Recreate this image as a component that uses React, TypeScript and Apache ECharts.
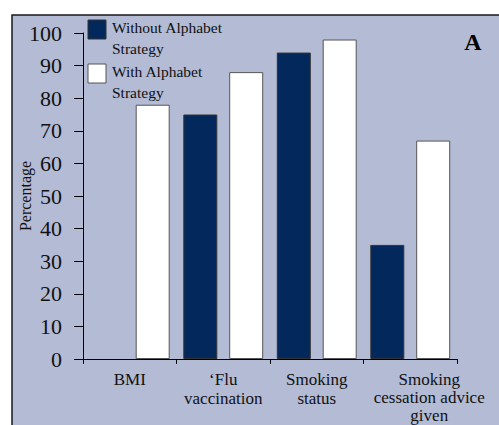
import React, { useEffect, useRef } from "react";
import * as echarts from "echarts";

const categories = ["BMI", "‘Flu\nvaccination", "Smoking\nstatus", "Smoking\ncessation advice\ngiven"];
const seriesNames = ["Without Alphabet Strategy", "With Alphabet Strategy"];
const legendLabels = ["Without Alphabet\nStrategy", "With Alphabet\nStrategy"];
const withoutValues: (number | null)[] = [null, 75, 94, 35];
const withValues: number[] = [78, 88, 98, 67];
const yTicks = { min: 0, max: 100, interval: 10 };

const FONT = "'Liberation Serif', 'DejaVu Serif', serif";
const NAVY = "#03295c";
const PANEL = "#b3bbd5";

export default function App() {
  const ref = useRef<HTMLDivElement>(null);
  useEffect(() => {
    if (!ref.current) return;
    const chart = echarts.init(ref.current, undefined, { renderer: "svg" });
    const legendColors = [NAVY, "#ffffff"];
    const legendStroke = ["#333", "#555"];
    const legendGraphics: any[] = [];
    legendLabels.forEach((label, i) => {
      const top = 20 + i * 44;
      legendGraphics.push({
        type: "rect",
        shape: { x: 88, y: top, width: 18, height: 19 },
        style: { fill: legendColors[i], stroke: legendStroke[i], lineWidth: 1 },
      });
      legendGraphics.push({
        type: "text",
        x: 112,
        y: top - 3,
        style: {
          text: label,
          font: "15.5px " + FONT,
          lineHeight: 21,
          fill: "#111",
          align: "left",
          verticalAlign: "top",
        },
      });
    });
    chart.setOption({
      animation: false,
      backgroundColor: "#ffffff",
      graphic: [
        {
          type: "rect",
          z: -10,
          shape: { x: 12, y: 15, width: 600, height: 600 },
          style: { fill: PANEL, stroke: "#1a1a1a", lineWidth: 1.5 },
        },
        {
          type: "text",
          x: 473,
          y: 42,
          style: {
            text: "A",
            font: "bold 24px " + FONT,
            fill: "#000",
            align: "center",
            verticalAlign: "middle",
          },
        },
        ...legendGraphics,
      ],
      grid: {
        left: 83,
        right: 42,
        top: 33,
        bottom: 66,
        containLabel: false,
        outerBoundsMode: "none",
      },
      xAxis: {
        type: "category",
        data: categories,
        axisLine: { lineStyle: { color: "#000", width: 1 } },
        axisTick: { show: true, length: 5, lineStyle: { color: "#000" } },
        axisLabel: {
          margin: 11,
          fontFamily: FONT,
          fontSize: 17,
          lineHeight: 19,
          color: "#111",
          interval: 0,
          hideOverlap: false,
          formatter: (value: string, idx: number) =>
            idx === 3
              ? value
                  .split("\n")
                  .map((l) => `{r|${l}}`)
                  .join("\n")
              : value,
          rich: {
            r: {
              fontFamily: FONT,
              fontSize: 17,
              lineHeight: 18,
              color: "#111",
              padding: [0, 0, 0, 38],
            },
          },
        },
      },
      yAxis: {
        type: "value",
        min: yTicks.min,
        max: yTicks.max,
        interval: yTicks.interval,
        name: "Percentage",
        nameLocation: "middle",
        nameGap: 50,
        nameMoveOverlap: false,
        nameTextStyle: { fontFamily: FONT, fontSize: 16, color: "#111" },
        axisLine: { show: true, lineStyle: { color: "#000", width: 1 } },
        axisTick: { show: true, length: 9, lineStyle: { color: "#000" } },
        splitLine: { show: false },
        axisLabel: { margin: 21, fontFamily: FONT, fontSize: 22, color: "#111" },
      },
      series: [
        {
          name: seriesNames[0],
          type: "bar",
          data: withoutValues,
          barWidth: 34,
          barGap: "35%",
          itemStyle: { color: NAVY, borderColor: "#333", borderWidth: 1 },
        },
        {
          name: seriesNames[1],
          type: "bar",
          data: withValues,
          barWidth: 34,
          barGap: "35%",
          itemStyle: { color: "#ffffff", borderColor: "#555", borderWidth: 1 },
        },
      ],
    });
    return () => chart.dispose();
  }, []);
  return (
    <div
      ref={ref}
      style={{ position: "absolute", left: 0, top: 0, width: 499, height: 425 }}
    />
  );
}
